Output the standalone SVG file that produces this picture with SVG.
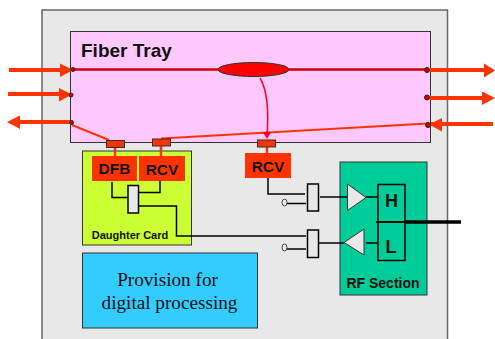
<svg xmlns="http://www.w3.org/2000/svg" width="495" height="339" viewBox="0 0 495 339">
<style>
.box{stroke:#333;stroke-width:1}
.org{stroke:#ff3300;fill:none}
.blk{stroke:#000;stroke-width:1.5;fill:none}
.sans{font-family:"Liberation Sans",Arial,sans-serif;font-weight:bold;fill:#111}
.port{fill:#ff3300;stroke:#333;stroke-width:1}
.sw{fill:#e8e8e8;stroke:#000;stroke-width:1.5}
.tri{fill:#e8e8e8;stroke:#333;stroke-width:1}
.dot{fill:#d40000;stroke:#222;stroke-width:1}
.red{fill:#ff3300}
.ah{fill:#ff3300}
.serif{font-family:"Liberation Serif","Times New Roman",serif;font-size:19.200px;fill:#111}
</style>
<rect width="495" height="339" fill="#fff"/>
<g id="chassis"><path d="M42 339V10H447.500V339" fill="#e8e8e8" stroke="#666" stroke-width="1.500"/></g>
<g id="fiber-tray"><rect class="box" x="70.500" y="31.500" width="360" height="111" fill="#ffc8ff"/>
<text class="sans" x="81" y="57" font-size="19">Fiber Tray</text></g>
<g id="daughter-card"><rect class="box" x="82.500" y="151" width="109" height="94" fill="#ccff33"/>
<text class="sans" x="130" y="238.500" font-size="11" text-anchor="middle">Daughter Card</text></g>
<g id="dfb"><rect class="red" x="92" y="156" width="45" height="25"/>
<text class="sans" x="114.500" y="174" font-size="15.500" text-anchor="middle">DFB</text></g>
<g id="rcv"><rect class="red" x="139" y="156" width="46" height="25"/>
<text class="sans" x="162" y="175" font-size="15.500" text-anchor="middle">RCV</text></g>
<g id="rcv2"><rect class="red" x="245" y="153" width="46" height="25"/>
<text class="sans" x="268" y="172" font-size="15.500" text-anchor="middle">RCV</text></g>
<g id="provision"><rect class="box" x="82.500" y="253" width="175" height="75" fill="#33ccff"/>
<text class="serif" x="167.500" y="286" text-anchor="middle">Provision for</text>
<text class="serif" x="169.500" y="309" text-anchor="middle">digital processing</text></g>
<g id="rf-section"><rect class="box" x="340" y="162" width="87" height="133" fill="#00cc99"/>
<text class="sans" x="383" y="288" font-size="14" text-anchor="middle">RF Section</text></g>
<g id="h-filter"><rect x="378" y="184.500" width="27" height="37.500" fill="#00cc99" stroke="#000" stroke-width="1.500"/>
<text class="sans" x="391.500" y="207" font-size="18" text-anchor="middle">H</text></g>
<g id="l-filter"><rect x="378" y="222" width="27" height="38.500" fill="#00cc99" stroke="#000" stroke-width="1.500"/>
<text class="sans" x="391" y="253" font-size="18" text-anchor="middle">L</text></g>
<g id="connectors">
<path d="M73 69.500H427" stroke="#cc0000" stroke-width="2.500" fill="none"/>
<g class="org" stroke-width="4">
<path d="M9 70H62"/><path d="M8 94H60"/><path d="M20 122H71"/>
<path d="M430 70H484"/><path d="M430 98H484"/><path d="M431 124H493"/></g>
<g class="ah">
<path d="M60 63.500L73 70L60 77Z"/><path d="M59 88L72 94.500L59 101.500Z"/><path d="M7 122L20 115.500V129Z"/>
<path d="M484 63.500L495 70.500L484 77.500Z"/><path d="M482 91.500L495 98L482 105Z"/><path d="M429 124.500L442 118V131.500Z"/></g>
<g class="org" stroke-width="2">
<path d="M72 125L109 140"/><path d="M161 138.500L428 123.500"/></g>
<path d="M260 78C267 90 269 110 267 136" stroke="#ff0020" stroke-width="1.500" fill="none"/>
<path d="M263 132H271L267 139Z" fill="#ff0020"/>
<g class="org" stroke-width="2.500"><path d="M115 147V157"/><path d="M161 146V157"/><path d="M267 147V154"/></g>
<g class="blk">
<path d="M112 182V197.500H128"/><path d="M160 181V192.500H138"/>
<path d="M138 206H176.500V236H306"/>
<path d="M268 178V194H305"/><path d="M286 203.500H306"/><path d="M286 249H306"/>
<path d="M320 197H347"/><path d="M319 243H344"/>
<path d="M366 197H378"/><path d="M366 243H377"/>
</g>
<path d="M376 222H405" stroke="#000" stroke-width="1.500"/>
<path d="M405 222H461" stroke="#000" stroke-width="3.500"/>
</g>
<g id="dfb-port"><rect class="port" x="106.500" y="140.500" width="18" height="7"/></g>
<g id="rcv-port"><rect class="port" x="152.500" y="139" width="18" height="7"/></g>
<g id="rcv2-port"><rect class="port" x="257.500" y="140" width="18" height="7"/></g>
<g id="splitter"><rect class="sw" x="128" y="185.500" width="10.500" height="27.500"/></g>
<g id="switch-top"><rect class="sw" x="307.500" y="184" width="11" height="27"/></g>
<g id="switch-bottom"><rect class="sw" x="307.500" y="230" width="11" height="27.500"/></g>
<g id="term-top"><ellipse cx="284.500" cy="202.500" rx="2.500" ry="3.500" fill="#e8e8e8" stroke="#444"/></g>
<g id="term-bottom"><ellipse cx="284.500" cy="247.500" rx="2.500" ry="3.500" fill="#e8e8e8" stroke="#444"/></g>
<g id="amp-up"><path class="tri" d="M347.500 184L366 197.500L347.500 210.500Z"/></g>
<g id="amp-down"><path class="tri" d="M364 229V255L344 242.500Z"/></g>
<g id="coupler"><ellipse cx="253.500" cy="69.500" rx="35.500" ry="7" fill="#ff0000" stroke="#333" stroke-width="1"/></g>
<g id="dots">
<circle class="dot" cx="73" cy="69.500" r="2"/><circle class="dot" cx="71" cy="95" r="2"/><circle class="dot" cx="71.500" cy="122.500" r="2"/>
<circle class="dot" cx="427" cy="70" r="2.500"/><circle class="dot" cx="427" cy="97.500" r="2.500"/><circle class="dot" cx="428" cy="125" r="2.500"/>
</g>
</svg>
